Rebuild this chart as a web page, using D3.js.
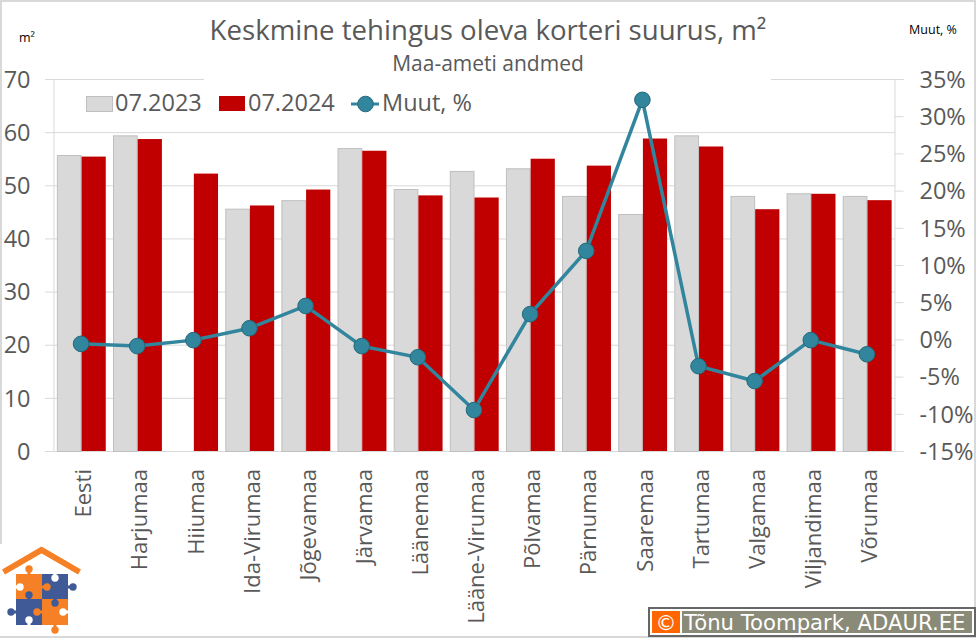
<!DOCTYPE html>
<html><head><meta charset="utf-8">
<script src="https://cdn.jsdelivr.net/npm/d3@7/dist/d3.min.js"></script>
<style>html,body{margin:0;padding:0;background:#fff}svg{display:block}text{font-family:"Open Sans",sans-serif}</style>
</head><body><div id="c"></div>
<script>
const categories=["Eesti","Harjumaa","Hiiumaa","Ida-Virumaa","Jõgevamaa","Järvamaa","Läänemaa","Lääne-Virumaa","Põlvamaa","Pärnumaa","Saaremaa","Tartumaa","Valgamaa","Viljandimaa","Võrumaa"];
const values2023=[55.7,59.4,null,45.6,47.2,57,49.3,52.7,53.2,48,44.6,59.4,48,48.5,48];
const values2024=[55.4,58.7,52.2,46.2,49.2,56.5,48.1,47.7,55,53.7,58.8,57.3,45.5,48.4,47.2];
const change=[-0.6,-0.9,-0.1,1.5,4.5,-0.9,-2.4,-9.5,3.4,11.9,32.2,-3.6,-5.6,-0.1,-2];
const leftTicks=[0,10,20,30,40,50,60,70];
const rightTicks=[-15,-10,-5,0,5,10,15,20,25,30,35];
const seriesNames=["07.2023","07.2024","Muut, %"];

const W=976,H=638,L=53,R=895,T=79,B=451;
const svg=d3.select("#c").append("svg").attr("width",W).attr("height",H);
svg.append("rect").attr("x",1).attr("y",1).attr("width",W-2).attr("height",H-2).attr("fill","#fff").attr("stroke","#d9d9d9").attr("stroke-width",2);

const x=d3.scaleBand().domain(categories).range([L,R]).paddingInner(0).paddingOuter(0);
const y=d3.scaleLinear().domain([0,70]).range([B,T]);
const y2=d3.scaleLinear().domain([-15,35]).range([B,T]);
const barW=x.bandwidth()*0.44;
const gridC="#d9d9d9",txtC="#595959";

svg.append("g").selectAll("line").data(leftTicks).join("line")
 .attr("x1",L-8).attr("x2",R).attr("y1",d=>y(d)+.5).attr("y2",d=>y(d)+.5).attr("stroke",gridC).attr("stroke-width",1);
const ga=svg.append("g").attr("transform",`translate(${L+.5},0)`).call(d3.axisLeft(y).tickValues(leftTicks).tickSize(0).tickPadding(0));
ga.select(".domain").attr("stroke",gridC);
ga.selectAll("text").attr("x",30-L).attr("dy",".35em").attr("text-anchor","end").attr("fill",txtC).style("font-size","23.5px");
const gb=svg.append("g").attr("transform",`translate(${R-.5},0)`).call(d3.axisRight(y2).tickValues(rightTicks).tickFormat(d=>d+"%").tickSize(9).tickPadding(6));
gb.select(".domain").attr("stroke",gridC);
gb.selectAll("line").attr("stroke",gridC);
gb.selectAll("text").attr("x",920-R).attr("dy",".35em").attr("text-anchor","start").attr("fill",txtC).style("font-size","23.5px");
const gc=svg.append("g").attr("transform",`translate(0,${B})`).call(d3.axisBottom(x).tickSize(0));
gc.select(".domain").remove();
gc.selectAll("text").attr("transform","rotate(-90)").attr("x",-18).attr("y",2.5).attr("dy",".35em").attr("text-anchor","end").attr("fill",txtC).style("font-size","22px");

svg.append("rect").attr("x",204).attr("y",20).attr("width",567).attr("height",65).attr("fill","#fff");

svg.append("g").selectAll("rect").data(categories.map((c,i)=>({c,v:values2023[i]})).filter(d=>d.v!=null)).join("rect")
 .attr("x",d=>x(d.c)+x.bandwidth()/2-barW+1).attr("width",barW-1).attr("y",d=>y(d.v)+.5).attr("height",d=>B-y(d.v))
 .attr("fill","#d9d9d9").attr("stroke","#bfbfbf").attr("stroke-width",1);
svg.append("g").selectAll("rect").data(categories.map((c,i)=>({c,v:values2024[i]}))).join("rect")
 .attr("x",d=>x(d.c)+x.bandwidth()/2+.5).attr("width",barW-.5).attr("y",d=>y(d.v)).attr("height",d=>B-y(d.v))
 .attr("fill","#c00000");

const line=d3.line().x((d,i)=>x(categories[i])+x.bandwidth()/2).y(d=>y2(d));
svg.append("path").datum(change).attr("d",line).attr("fill","none").attr("stroke","#31859c").attr("stroke-width",3.5);
svg.append("g").selectAll("circle").data(change).join("circle")
 .attr("cx",(d,i)=>x(categories[i])+x.bandwidth()/2).attr("cy",d=>y2(d)).attr("r",7.8)
 .attr("fill","#31859c").attr("stroke","#24687b").attr("stroke-width",1);

svg.append("text").attr("x",488).attr("y",40).attr("text-anchor","middle").attr("fill",txtC).style("font-size","27.6px").text("Keskmine tehingus oleva korteri suurus, m²");
svg.append("text").attr("x",488).attr("y",71).attr("text-anchor","middle").attr("fill",txtC).style("font-size","21px").text("Maa-ameti andmed");
svg.append("text").attr("x",27).attr("y",42).attr("text-anchor","middle").attr("fill","#000").style("font-size","12.5px").text("m²");
svg.append("text").attr("x",933).attr("y",34).attr("text-anchor","middle").attr("fill","#000").style("font-size","12.5px").text("Muut, %");

svg.append("rect").attr("x",86.5).attr("y",96.5).attr("width",26).attr("height",15).attr("fill","#d9d9d9").attr("stroke","#bfbfbf");
svg.append("text").attr("x",115).attr("y",111).attr("fill",txtC).style("font-size","23.5px").text(seriesNames[0]);
svg.append("rect").attr("x",219).attr("y",96).attr("width",26).attr("height",15).attr("fill","#c00000");
svg.append("text").attr("x",248).attr("y",111).attr("fill",txtC).style("font-size","23.5px").text(seriesNames[1]);
svg.append("line").attr("x1",351).attr("x2",379).attr("y1",104).attr("y2",104).attr("stroke","#31859c").attr("stroke-width",3);
svg.append("circle").attr("cx",365.5).attr("cy",104).attr("r",7.8).attr("fill","#31859c").attr("stroke","#24687b");
svg.append("text").attr("x",382).attr("y",111).attr("fill",txtC).style("font-size","23.5px").text(seriesNames[2]);

// logo (decorative)
const lg=svg.append("g");
lg.append("rect").attr("x",0).attr("y",544).attr("width",84).attr("height",92).attr("fill","#fff");
const or="#f58025",bl="#3f5a96";
lg.append("path").attr("d","M3.5 572 L41.5 550 L79.5 572").attr("fill","none").attr("stroke",or).attr("stroke-width",6);
lg.append("rect").attr("x",16).attr("y",574).attr("width",26).attr("height",25).attr("fill",or);
lg.append("rect").attr("x",42).attr("y",574).attr("width",26).attr("height",25).attr("fill",bl);
lg.append("rect").attr("x",16).attr("y",599).attr("width",26).attr("height",26).attr("fill",bl);
lg.append("rect").attr("x",42).attr("y",599).attr("width",26).attr("height",26).attr("fill",or);
[[29,569,29,575,or],[73,587,67,587,bl],[47,587,41,587,or],[29,595,29,600,bl],[11,612,17,612,bl],[37,612,43,612,or],[55,603,55,598,bl],[55,630,55,624,or],[20,587,15,587,"#fff"],[55,578,55,573,"#fff"],[63,612,69,612,"#fff"],[29,620,29,626,"#fff"]]
 .forEach(d=>{
  lg.append("line").attr("x1",d[0]).attr("y1",d[1]).attr("x2",d[2]).attr("y2",d[3]).attr("stroke",d[4]).attr("stroke-width",3);
  lg.append("circle").attr("cx",d[0]).attr("cy",d[1]).attr("r",3.7).attr("fill",d[4]);
 });

svg.append("rect").attr("x",649).attr("y",608).attr("width",326).attr("height",28).attr("fill","#fff").attr("stroke","#666").attr("stroke-width",2);
svg.append("rect").attr("x",652).attr("y",611).attr("width",28).attr("height",22).attr("fill","#ff6600");
svg.append("rect").attr("x",682).attr("y",611).attr("width",290).attr("height",22).attr("fill","#8a8a78");
svg.append("text").attr("x",666).attr("y",630).attr("text-anchor","middle").attr("fill","#fff").style("font-family","DejaVu Sans").style("font-size","21px").text("©");
svg.append("text").attr("x",684).attr("y",630).attr("fill","#fff").style("font-family","DejaVu Sans").style("font-size","21.2px").text("Tõnu Toompark, ADAUR.EE");
</script></body></html>
